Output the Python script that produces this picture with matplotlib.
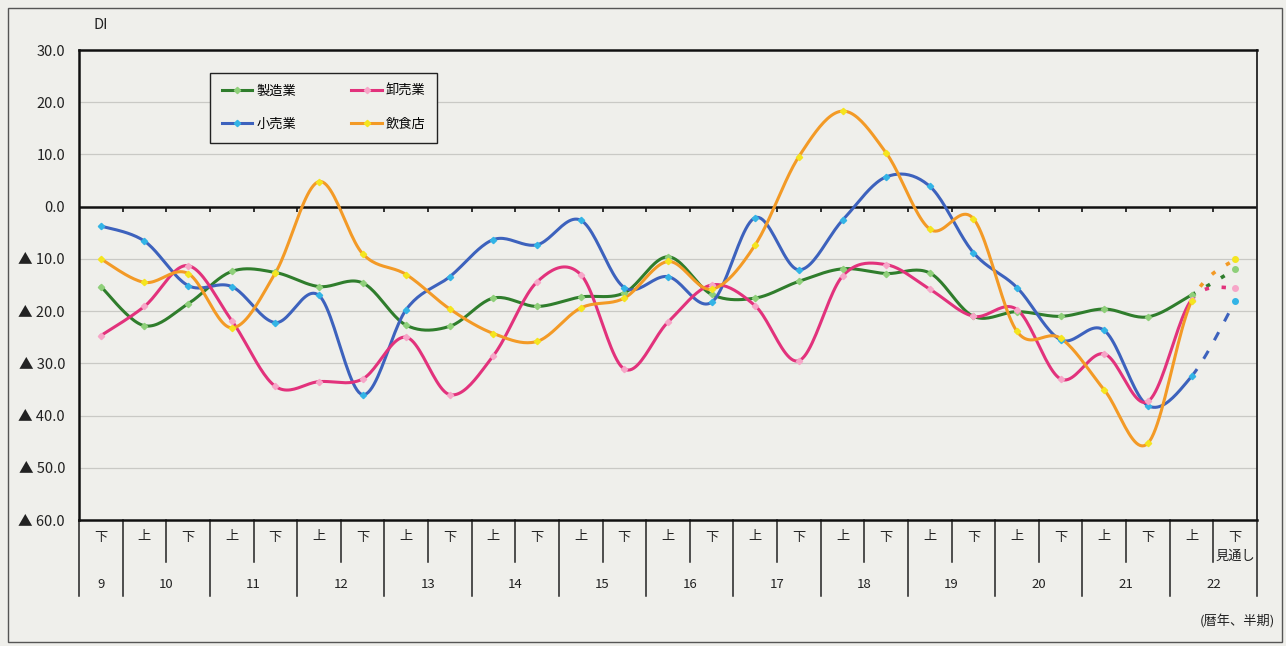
import numpy as np
import matplotlib
matplotlib.use("Agg")
import matplotlib.pyplot as plt
from matplotlib.lines import Line2D
from matplotlib.patches import Rectangle
import matplotlib.transforms as mtransforms

plt.rcParams['font.family'] = ['Noto Sans CJK JP', 'DejaVu Sans']

# ---- data ----
halves = ['下', '上', '下', '上', '下', '上', '下', '上', '下', '上', '下', '上', '下',
          '上', '下', '上', '下', '上', '下', '上', '下', '上', '下', '上', '下', '上', '下']
years = ['9', '10', '11', '12', '13', '14', '15', '16', '17', '18', '19', '20', '21', '22']
year_span = [1, 2, 2, 2, 2, 2, 2, 2, 2, 2, 2, 2, 2, 2]
outlook_note = '見通し'

manufacturing = [-15.3, -22.8, -18.6, -12.4, -12.6, -15.3, -14.6, -22.7, -22.9, -17.5, -19.1, -17.3, -16.5,
                 -9.6, -16.8, -17.5, -14.3, -11.9, -12.8, -12.7, -21.0, -20.1, -21.0, -19.6, -21.1, -16.9, -12.0]
wholesale = [-24.7, -19.1, -11.3, -21.8, -34.4, -33.5, -33.0, -25.0, -36.0, -28.5, -14.4, -13.0, -31.1,
             -22.1, -15.0, -19.0, -29.5, -13.3, -11.1, -15.8, -21.0, -19.7, -33.0, -28.2, -37.3, -17.8, -15.5]
retail = [-3.7, -6.6, -15.1, -15.3, -22.2, -17.0, -36.0, -19.7, -13.4, -6.3, -7.3, -2.6, -15.5,
          -13.4, -18.3, -2.1, -12.1, -2.6, 5.7, 3.9, -8.8, -15.5, -25.5, -23.7, -38.1, -32.5, -18.1]
restaurant = [-10.0, -14.5, -12.8, -23.2, -12.7, 4.8, -9.0, -13.0, -19.6, -24.3, -25.8, -19.4, -17.5,
              -10.5, -15.8, -7.3, 9.6, 18.3, 10.3, -4.3, -2.3, -23.9, -25.2, -35.1, -45.3, -18.1, -10.0]

series = [
    ('製造業', manufacturing, '#2f7d2c', '#8fd07a'),
    ('小売業', retail, '#3d62bd', '#33b4e6'),
    ('卸売業', wholesale, '#e2327c', '#f7a6c8'),
    ('飲食店', restaurant, '#f39a26', '#f5e51f'),
]

ytick_vals = [30, 20, 10, 0, -10, -20, -30, -40, -50, -60]


def ylabel(v):
    if v < 0:
        return '▲ %.1f' % (-v)
    return '%.1f' % v


def smooth(x, y, n=24):
    x = np.asarray(x, float)
    y = np.asarray(y, float)
    P = np.column_stack([x, y])
    Pe = np.vstack([P[0], P, P[-1]])
    segs = []
    t = np.linspace(0, 1, n)[:, None]
    for i in range(len(P) - 1):
        p0, p3 = Pe[i + 1], Pe[i + 2]
        c1 = p0 + (Pe[i + 2] - Pe[i]) / 6.0
        c2 = p3 - (Pe[i + 3] - Pe[i + 1]) / 6.0
        b = ((1 - t) ** 3) * p0 + 3 * ((1 - t) ** 2) * t * c1 + 3 * (1 - t) * t ** 2 * c2 + t ** 3 * p3
        segs.append(b)
    return segs


bg = '#efefeb'
fig = plt.figure(figsize=(12.86, 6.46), dpi=100, facecolor=bg)
ax = fig.add_axes([79 / 1286, 1 - 520 / 646, 1178 / 1286, 470 / 646])
ax.set_facecolor(bg)

n = len(halves)
xs = np.arange(n)
ax.set_xlim(-0.5, n - 0.5)
ax.set_ylim(-60, 30)

for v in ytick_vals:
    if v not in (0, 30, -60):
        ax.axhline(v, color='#c9c9c5', lw=0.9, zorder=1)
ax.axhline(0, color='#111111', lw=1.8, zorder=2)
ax.vlines(np.arange(n - 1) + 0.5, -1.0, 0, color='#111111', lw=1.2, zorder=2)

for name, vals, col, mcol in series:
    segs = smooth(xs, vals)
    solid = np.vstack(segs[:-1])
    ax.plot(solid[:, 0], solid[:, 1], color=col, lw=2.2, zorder=3, solid_capstyle='round')
    last = segs[-1]
    if name == '小売業':
        ax.plot(last[:, 0], last[:, 1], color=col, lw=2.2, ls=(0, (3, 4)), zorder=3)
    else:
        ax.plot(last[:, 0], last[:, 1], color=col, lw=2.6, ls=(0, (1.2, 3.5)), zorder=3)
    ax.plot(xs[:-1], vals[:-1], ls='none', marker='D', ms=3.2, mfc=mcol, mec=mcol, zorder=4)
    ax.plot(xs[-1:], vals[-1:], ls='none', marker='o', ms=4.0, mfc=mcol, mec=mcol, zorder=4)

ax.set_yticks(ytick_vals)
ax.set_yticklabels([ylabel(v) for v in ytick_vals], fontsize=10.5, color='#222222')
ax.tick_params(axis='y', length=0, pad=10)
ax.set_xticks([])
for s in ['top', 'bottom', 'left']:
    ax.spines[s].set_linewidth(1.8)
    ax.spines[s].set_color('#111111')
ax.spines['right'].set_linewidth(1.3)
ax.spines['right'].set_color('#222222')

# category table below the axis
trans = mtransforms.blended_transform_factory(ax.transData, ax.transAxes)
short_y = (520 - 562) / 470
long_y = (520 - 596) / 470
year_edges = np.concatenate([[0], np.cumsum(year_span)])
for k in range(n + 1):
    bx = k - 0.5
    yl = long_y if k in year_edges else short_y
    ax.plot([bx, bx], [0, yl], transform=trans, color='#222222', lw=1.1, clip_on=False)
for i, h in enumerate(halves):
    ax.text(i, (520 - 537) / 470, h, transform=trans, ha='center', va='center', fontsize=9.5, color='#222222')
ax.text(n - 1, (520 - 556) / 470, outlook_note, transform=trans, ha='center', va='center',
        fontsize=9.5, color='#222222')
for j, y in enumerate(years):
    cx = (year_edges[j] + year_edges[j + 1]) / 2 - 0.5
    ax.text(cx, (520 - 584) / 470, y, transform=trans, ha='center', va='center', fontsize=9.5, color='#222222')

# legend
handles = [Line2D([0], [0], color=c, lw=2.2, marker='D', ms=3.2, mfc=m, mec=m) for _, _, c, m in series]
labels = [s[0] for s in series]
leg = ax.legend(handles, labels, ncol=2, loc='upper left', bbox_to_anchor=((210 - 79) / 1178, (520 - 73) / 470),
                borderaxespad=0, frameon=True, fancybox=False, edgecolor='#222222', facecolor=bg, framealpha=1,
                fontsize=9.5, handlelength=2.3, columnspacing=4.2, borderpad=0.9, labelspacing=1.5,
                handletextpad=0.3)
leg.get_frame().set_linewidth(1.0)

fig.text(93 / 1286, 1 - 25 / 646, 'DI', fontsize=10.5, ha='left', va='center', color='#222222')
fig.text(1275 / 1286, 1 - 622 / 646, '(暦年、半期)', fontsize=9.5, ha='right', va='center', color='#222222')

fig.patches.append(Rectangle((8 / 1286, 4 / 646), 1274 / 1286, 634 / 646, transform=fig.transFigure,
                             fill=False, edgecolor='#555555', lw=1.0))

fig.savefig('out.png', dpi=100, facecolor=bg)
